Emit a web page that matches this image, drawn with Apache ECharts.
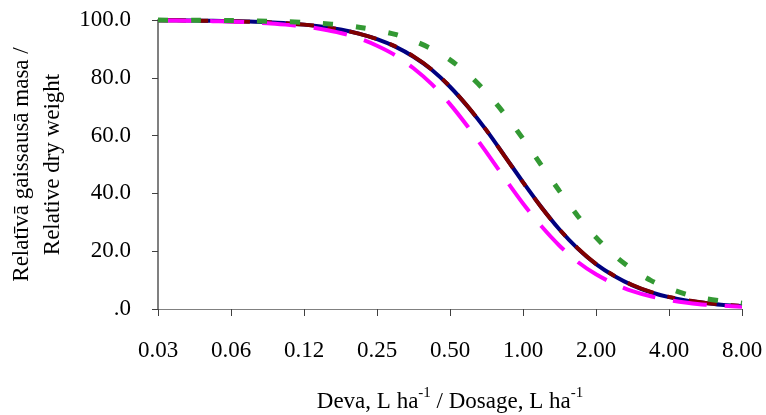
<!DOCTYPE html>
<html>
<head>
<meta charset="utf-8">
<script src="https://cdn.jsdelivr.net/npm/echarts@6/dist/echarts.min.js"></script>
<style>
html,body{margin:0;padding:0;background:#fff;}
#chart{width:766px;height:415px;}
</style>
</head>
<body>
<div id="chart"></div>
<script>
// Dose values (L/ha), read along the log2 x-axis
const doses = [0.03125, 0.0372, 0.0442, 0.0526, 0.0625, 0.0743, 0.0884, 0.1051, 0.125, 0.1487, 0.1768, 0.2102, 0.25, 0.2973, 0.3536, 0.4204, 0.5, 0.5946, 0.7071, 0.8409, 1, 1.1892, 1.4142, 1.6818, 2, 2.3784, 2.8284, 3.3636, 4, 4.7568, 5.6569, 6.7272, 8];
// Relative dry weight (%) for each curve
const navySeries = [99.9,99.9,99.8,99.7,99.6,99.5,99.2,98.9,98.4,97.7,96.7,95.3,93.4,90.8,87.3,82.8,76.9,69.8,61.8,52.9,43.9,35.3,27.5,20.9,15.5,11.4,8.2,5.8,4.1,2.9,2.1,1.4,1.0];
const redSeries = [99.9,99.9,99.8,99.7,99.6,99.4,99.2,98.9,98.4,97.7,96.7,95.3,93.4,90.9,87.4,82.9,77.0,69.9,61.8,52.8,43.8,35.2,27.5,21.0,15.6,11.5,8.3,5.9,4.2,3.0,2.1,1.5,1.1];
const magentaSeries = [99.9,99.8,99.7,99.6,99.5,99.2,98.9,98.4,97.8,96.8,95.5,93.7,91.1,87.8,83.3,77.8,70.9,62.9,54.2,45.2,36.5,28.7,21.9,16.3,12.0,8.7,6.2,4.4,3.1,2.2,1.5,1.1,0.8];
const greenSeries = [100.0,99.9,99.9,99.9,99.8,99.7,99.6,99.4,99.2,98.8,98.3,97.5,96.4,95.0,92.8,90.0,86.2,81.2,74.9,67.4,58.9,49.8,40.8,32.2,24.8,18.6,13.7,9.9,7.1,5.0,3.6,2.7,2.0];
// Tick labels
const xTickLabels = ["0.03","0.06","0.12","0.25","0.50","1.00","2.00","4.00","8.00"];
const yTickLabels = [".0","20.0","40.0","60.0","80.0","100.0"];

const FONT = '"Liberation Serif", "Times New Roman", serif';
const chart = echarts.init(document.getElementById('chart'), null, {renderer:'canvas'});

function pts(arr){ return doses.map((d,i)=>[d, arr[i]]); }

const option = {
  backgroundColor:'#ffffff',
  animation:false,
  grid:{left:158, right:24, top:20, bottom:106, containLabel:false, outerBoundsMode:'none'},
  xAxis:{
    type:'log', logBase:2, min:0.03125, max:8,
    splitNumber:8,
    axisLine:{show:true, lineStyle:{color:'#808080', width:1}},
    axisTick:{show:true, inside:false, length:7, lineStyle:{color:'#404040', width:1}},
    splitLine:{show:false},
    axisLabel:{
      color:'#000', fontFamily:FONT, fontSize:23, margin:30,
      formatter:function(v){ const i=Math.round(Math.log2(v/0.03125)); return xTickLabels[i]!==undefined?xTickLabels[i]:''; }
    },
    name:'{n|Deva, L ha}{s|-1}{n| / Dosage, L ha}{s|-1}',
    nameLocation:'middle', nameGap:77,
    nameTextStyle:{
      rich:{
        n:{fontFamily:FONT, fontSize:23, color:'#000', lineHeight:27, verticalAlign:'bottom'},
        s:{fontFamily:FONT, fontSize:15, color:'#000', lineHeight:27, verticalAlign:'top'}
      }
    }
  },
  yAxis:{
    type:'value', min:0, max:100, interval:20,
    axisLine:{show:true, lineStyle:{color:'#808080', width:2}},
    axisTick:{show:true, inside:false, length:6, lineStyle:{color:'#404040', width:1}},
    splitLine:{show:false},
    axisLabel:{
      color:'#000', fontFamily:FONT, fontSize:23, margin:27,
      formatter:function(v){ return yTickLabels[Math.round(v/20)]; }
    },
    name:'Relatīvā gaissausā masa /\nRelative dry weight',
    nameLocation:'middle', nameRotate:90, nameGap:90,
    nameTextStyle:{fontFamily:FONT, fontSize:23, color:'#000', lineHeight:31, align:'center'}
  },
  series:[
    {type:'line', name:'navy', data:pts(navySeries), showSymbol:false, smooth:0.3, clip:false,
     lineStyle:{color:'#000080', width:4, type:'solid'}},
    {type:'line', name:'red', data:pts(redSeries), showSymbol:false, smooth:0.3, clip:false,
     lineStyle:{color:'#800000', width:4, type:[28,14,8,14]}},
    {type:'line', name:'magenta', data:pts(magentaSeries), showSymbol:false, smooth:0.3, clip:false,
     lineStyle:{color:'#FF00FF', width:4, type:[34,18]}},
    {type:'line', name:'green', data:pts(greenSeries), showSymbol:false, smooth:0.3, clip:false,
     lineStyle:{color:'#339933', width:5, type:[10,23]}}
  ]
};
chart.setOption(option);
</script>
</body>
</html>
